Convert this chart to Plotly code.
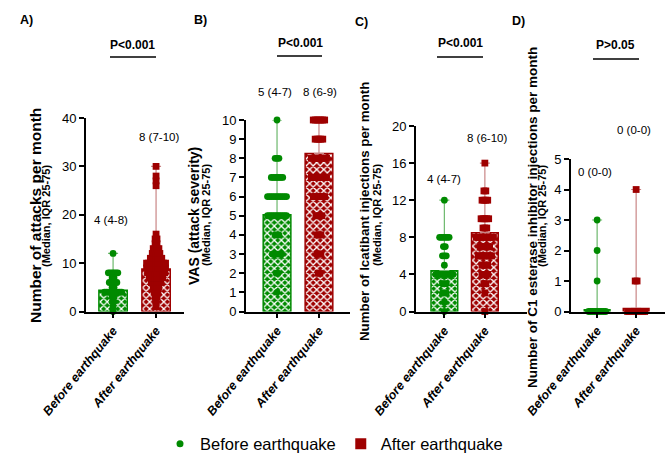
import plotly.graph_objects as go

W, H = 665, 457

# ---------------- data ----------------
categories = ["Before earthquake", "After earthquake"]
panel_letters = ["A)", "B)", "C)", "D)"]
p_texts = ["P<0.001", "P<0.001", "P<0.001", "P>0.05"]
y_titles = ["Number of attacks per month", "VAS (attack severity)",
            "Number of Icatibant injections per month",
            "Number of C1 esterase inhibitor injections per month"]
y_subtitle = "(Median, IQR 25-75)"
median_labels_before = ["4 (4-8)", "5 (4-7)", "4 (4-7)", "0 (0-0)"]
median_labels_after = ["8 (7-10)", "8 (6-9)", "8 (6-10)", "0 (0-0)"]
y_max = [40, 10, 20, 5]
y_dtick = [10, 1, 4, 1]

# Panel A: attacks per month (value, number of patients)
a_before_vals = [0, 1, 2, 3, 4, 5, 6, 7, 8, 12]
a_before_counts = [1, 1, 2, 2, 10, 2, 5, 2, 6, 1]
a_after_vals = [1, 2, 3, 4, 5, 6, 7, 8, 9, 10, 11, 12, 13, 14, 15, 16, 26, 27, 28, 30]
a_after_counts = [1, 1, 2, 3, 4, 6, 8, 10, 11, 11, 7, 5, 4, 2, 2, 1, 1, 1, 1, 1]
# Panel B: VAS
b_before_vals = [1, 2, 3, 4, 5, 6, 7, 8, 10]
b_before_counts = [1, 2, 6, 3, 11, 11, 7, 3, 1]
b_after_vals = [2, 3, 4, 5, 6, 7, 8, 9, 10]
b_after_counts = [2, 3, 3, 4, 7, 9, 9, 5, 7]
# Panel C: icatibant injections
c_before_vals = [0, 1, 2, 3, 4, 5, 6, 7, 8, 12]
c_before_counts = [1, 1, 3, 3, 10, 1, 3, 2, 6, 1]
c_after_vals = [0, 2, 3, 4, 5, 6, 7, 8, 9, 10, 12, 13, 16]
c_after_counts = [1, 1, 2, 4, 4, 8, 6, 10, 3, 5, 4, 2, 1]
# Panel D: C1 esterase inhibitor injections
d_before_vals = [0, 1, 2, 3]
d_before_counts = [10, 1, 1, 1]
d_after_vals = [0, 1, 4]
d_after_counts = [10, 2, 1]

bar_before = [4.4, 5.05, 4.4, 0.06]
bar_after = [8.8, 8.25, 8.5, 0.1]

before_sets = [(a_before_vals, a_before_counts), (b_before_vals, b_before_counts),
               (c_before_vals, c_before_counts), (d_before_vals, d_before_counts)]
after_sets = [(a_after_vals, a_after_counts), (b_after_vals, b_after_counts),
              (c_after_vals, c_after_counts), (d_after_vals, d_after_counts)]

# ---------------- styling / geometry ----------------
GREEN = "#008a00"
RED = "#9e0000"
GREEN_W = "#6cb86c"
RED_W = "#c98585"
SANS = "Liberation Sans, Arial, sans-serif"

panel_px = [(86, 184), (246, 350), (416, 527), (571, 665)]
x_ranges = [(-0.63, 1.65), (-0.74, 1.74), (-0.70, 2.04), (-0.67, 1.74)]
panel_top = [118, 120, 126, 159]
panel_bottom = 311.5

letter_pos = [(26, 20), (200, 20), (361, 22), (518, 21)]
p_pos = [(132, 45), (300, 43), (460, 43), (615, 45)]
p_line = [(110, 156, 57), (277, 322, 56), (437, 483, 57), (593, 639, 59)]
lab_b_pos = [(111, 220), (275, 92), (444, 179), (595, 172)]
lab_a_pos = [(159, 137), (320, 92), (487, 138), (634, 130)]
title_pos = [(35, 216, 15.5), (194, 216, 14), (364, 212, 13.3), (532, 218, 13.5)]
sub_pos = [(46, 216), (206, 215), (377, 215), (542, 216)]


def px(x):
    return x / W


def py(y):
    return 1 - y / H


def swarm(vals, counts, center, step):
    xs, ys = [], []
    for v, n in zip(vals, counts):
        for i in range(n):
            xs.append(center + (i - (n - 1) / 2) * step)
            ys.append(v)
    return xs, ys


def text_ann(x, y, text, size, bold=False, angle=0):
    return dict(x=px(x), y=py(y), xref="paper", yref="paper", text=text,
                xanchor="center", yanchor="middle", textangle=angle, showarrow=False,
                font=dict(family=SANS, size=size, color="black",
                          weight="bold" if bold else "normal"))


fig = go.Figure()
layout = {}
annotations = []
shapes = []

for k in range(4):
    sfx = "" if k == 0 else str(k + 1)
    xa, ya = "x" + sfx, "y" + sfx
    x0p, x1p = panel_px[k]
    xr = x_ranges[k]
    units_per_px = (xr[1] - xr[0]) / (x1p - x0p)
    step = 1.9 * units_per_px

    groups = [(0, bar_before[k], before_sets[k], GREEN, GREEN_W, "circle"),
              (1, bar_after[k], after_sets[k], RED, RED_W, "square")]
    for pos, mean, (vals, counts), col, wcol, sym in groups:
        vmax = max(vals)
        fig.add_trace(go.Bar(
            x=[pos], y=[mean], width=0.66, xaxis=xa, yaxis=ya, showlegend=False,
            marker=dict(color=col, line=dict(color=col, width=1.5),
                        pattern=dict(shape="x", fgcolor="white", bgcolor=col,
                                     fillmode="replace", size=5, solidity=0.45)),
            error_y=dict(type="data", symmetric=False, array=[vmax - mean],
                         arrayminus=[0], color=wcol, thickness=1.2, width=5),
        ))
    for pos, mean, (vals, counts), col, wcol, sym in groups:
        xs, ys = swarm(vals, counts, pos, step)
        fig.add_trace(go.Scatter(
            x=xs, y=ys, mode="markers", xaxis=xa, yaxis=ya, showlegend=False,
            cliponaxis=False,
            marker=dict(symbol=sym, size=6.8, color=col, line=dict(width=0)),
        ))

    layout["xaxis" + sfx] = dict(
        domain=[px(x0p), px(x1p)], range=list(xr), anchor=ya,
        tickvals=[0, 1], ticktext=categories, tickangle=-51,
        tickfont=dict(family=SANS, size=12.5, color="black", weight="bold", style="italic"),
        showline=True, linecolor="black", linewidth=1.8, ticks="outside",
        ticklen=5, tickwidth=1.5, tickcolor="black", showgrid=False, zeroline=False,
        fixedrange=True, automargin=False,
    )
    layout["yaxis" + sfx] = dict(
        domain=[py(panel_bottom), py(panel_top[k])], range=[0, y_max[k]], anchor=xa,
        dtick=y_dtick[k], tick0=0,
        tickfont=dict(family=SANS, size=13, color="black"),
        showline=True, linecolor="black", linewidth=1.8, ticks="outside",
        ticklen=5, tickwidth=1.5, tickcolor="black", showgrid=False, zeroline=False,
        fixedrange=True, automargin=False,
    )

    annotations.append(text_ann(*letter_pos[k], panel_letters[k], 12.5, bold=True))
    annotations.append(text_ann(*p_pos[k], p_texts[k], 12, bold=True))
    l0, l1, ly2 = p_line[k]
    shapes.append(dict(type="line", xref="paper", yref="paper", x0=px(l0), x1=px(l1),
                       y0=py(ly2), y1=py(ly2), line=dict(color="black", width=1.5)))
    annotations.append(text_ann(*lab_b_pos[k], median_labels_before[k], 11.5))
    annotations.append(text_ann(*lab_a_pos[k], median_labels_after[k], 11.5))
    tx, ty, ts = title_pos[k]
    annotations.append(text_ann(tx, ty, y_titles[k], ts, bold=True, angle=-90))
    annotations.append(text_ann(*sub_pos[k], y_subtitle, 11, bold=True, angle=-90))

# legend entries
fig.add_trace(go.Scatter(x=[None], y=[None], mode="markers", name=categories[0],
                         marker=dict(symbol="circle", size=7, color=GREEN)))
fig.add_trace(go.Scatter(x=[None], y=[None], mode="markers", name=categories[1],
                         marker=dict(symbol="square", size=11, color=RED)))

fig.update_layout(
    width=W, height=H, margin=dict(l=0, r=0, t=0, b=0, pad=0, autoexpand=False),
    paper_bgcolor="white", plot_bgcolor="white", barmode="overlay",
    showlegend=True,
    legend=dict(orientation="h", x=px(334), xanchor="center", y=py(444), yanchor="middle",
                font=dict(family=SANS, size=16.5, color="black"), itemwidth=30,
                bgcolor="rgba(0,0,0,0)"),
    annotations=annotations, shapes=shapes,
    **layout,
)

fig.write_html("out.html", config={"displayModeBar": False},
               post_script="document.body.style.margin='0';document.body.style.overflow='hidden';")
